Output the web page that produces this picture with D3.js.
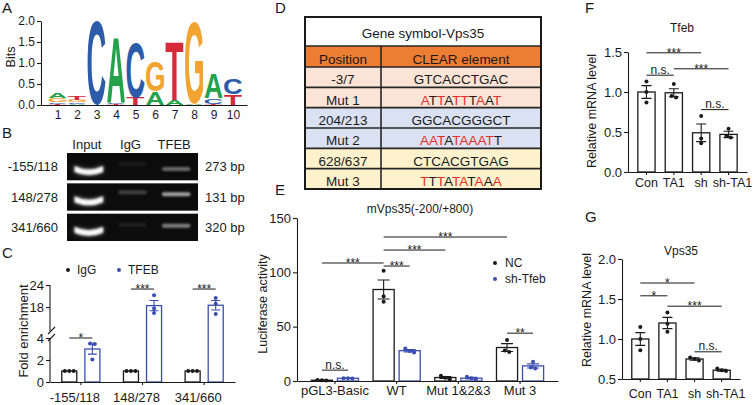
<!DOCTYPE html>
<html lang="en">
<head>
<meta charset="UTF-8">
<title>Vps35 / TFEB figure</title>
<script src="https://cdn.jsdelivr.net/npm/d3@7/dist/d3.min.js"></script>
<style>
  *{margin:0;padding:0;box-sizing:border-box}
  html,body{width:756px;height:405px;background:#fff;overflow:hidden}
  svg{display:block;font-family:"Liberation Sans",Arial,Helvetica,sans-serif;fill:#1a1a1a}
  .axis path,.axis line{stroke:#1a1a1a;stroke-width:1.1}
  .axis text{fill:#1a1a1a;font-size:13px;font-family:"Liberation Sans",Arial,sans-serif}
  .ax12 text{font-size:12px}
  .ax125 text{font-size:12.5px}
</style>
</head>
<body>
<svg id="fig" width="756" height="405"></svg>
<script>
// ---------- data ----------
// A: CLEAR motif logo (letters bottom -> top, height in bits)
const logoPos = [1,2,3,4,5,6,7,8,9,10];
const logoStacks = [
  [["T",0.02],["C",0.04],["G",0.10],["A",0.13]],
  [["A",0.02],["C",0.04],["G",0.05],["T",0.08]],
  [["C",2.0]],
  [["T",0.03],["C",0.04],["A",1.55]],
  [["T",0.17],["C",1.30]],
  [["A",0.32],["G",0.72]],
  [["A",0.13],["T",1.38]],
  [["A",0.03],["G",1.95]],
  [["T",0.03],["C",0.13],["A",0.58]],
  [["T",0.25],["C",0.38]]
];
const logoTicks = [0,0.5,1,1.5,2];

// B: ChIP-PCR gel
const gelLanes = ["Input","IgG","TFEB"];
const gelRows  = ["-155/118","148/278","341/660"];
const gelSizes = ["273 bp","131 bp","320 bp"];
const gelIgG   = [0.05,0.22,0.08];   // relative band brightness
const gelTFEB  = [0.38,0.62,0.48];

// C: ChIP-qPCR fold enrichment
const chipGroups = ["-155/118","148/278","341/660"];
const chipIgG    = [1,1,1];
const chipTFEB   = [3.0,18.4,18.5];
const chipTFEBse = [0.47,1.4,1.3];
const chipIgGPts  = [[1,1,1],[1,1,1],[1,1,1]];
const chipTFEBPts = [[3.5,3.45,2.05],[21.2,17.6,16.4],[20.5,18.9,16.1]];
const chipTicks  = [0,2,4,18,24];
const chipSig    = [["*",4.0],["***",22.9],["***",22.9]];

// D: CLEAR elements table
const tablePos = ["-3/7","Mut 1","204/213","Mut 2","628/637","Mut 3"];
const tableSeq = ["GTCACCTGAC","ATTATTTAAT","GGCACGGGCT","AATATAAATT","CTCACGTGAG","TTTATATAAA"];

// E: luciferase assay
const lucGroups = ["pGL3-Basic","WT","Mut 1&2&3","Mut 3"];
const lucNC     = [0.7,84.2,3.2,30.8];
const lucNCse   = [0.2,8.8,0.9,3.6];
const lucSh     = [2.5,27.9,2.6,13.9];
const lucShSe   = [0.1,1.1,0.7,1.9];
const lucNCPts  = [[0.4,0.8,1.0],[101.5,78,73],[4.8,3.0,1.7],[37.7,28.0,26.7]];
const lucShPts  = [[2.6,2.5,2.3],[30.0,27.5,26.2],[3.8,2.5,1.5],[17.8,12.5,11.5]];
const lucTicks  = [0,50,100,150];
// [groupA, seriesA, groupB, seriesB, y, label]
const lucSig = [[0,0,0,1,10,"n.s."],[0,0,1,0,108.6,"***"],[1,0,1,1,105.8,"***"],
                [1,0,2,0,120.5,"***"],[1,0,3,0,132.5,"***"],[3,0,3,1,44,"**"]];

// F: Tfeb mRNA
const geneCats = ["Con","TA1","sh","sh-TA1"];
const tfebMean = [1.0,0.99,0.49,0.47];
const tfebSe   = [0.08,0.05,0.11,0.04];
const tfebPts  = [[1.13,1.0,0.87],[1.10,0.95,0.93],[0.70,0.42,0.36],[0.54,0.45,0.43]];
const tfebTicks = [0,0.5,1,1.5];
const tfebSig  = [[0,2,1.49,"***"],[0,1,1.21,"n.s."],[1,3,1.29,"***"],[2,3,0.78,"n.s."]];

// G: Vps35 mRNA
const vpsMean = [1.0,1.2,0.75,0.61];
const vpsSe   = [0.08,0.07,0.015,0.012];
const vpsPts  = [[1.15,1.0,0.86],[1.33,1.19,1.09],[0.77,0.75,0.73],[0.63,0.61,0.60]];
const vpsTicks = [0.5,1,1.5,2];
const vpsSig  = [[0,2,1.70,"*"],[0,1,1.54,"*"],[1,3,1.41,"***"],[2,3,0.84,"n.s."]];

// ---------- helpers ----------
const INK = "#1a1a1a", BLUE = "#3a4db0", RED = "#ea2e27";
const svg = d3.select("#fig");
const defs = svg.append("defs");
defs.append("filter").attr("id","blur").attr("x","-30%").attr("y","-100%").attr("width","160%").attr("height","300%")
  .append("feGaussianBlur").attr("stdDeviation",1.1);
defs.append("filter").attr("id","glow").attr("x","-30%").attr("y","-100%").attr("width","160%").attr("height","300%")
  .append("feGaussianBlur").attr("stdDeviation",2.4);

function panelLetter(t,x,y){
  svg.append("text").attr("x",x).attr("y",y).attr("font-size",15).attr("fill",INK).text(t);
}
function rotLabel(g,t,x,y,size=12.5){
  g.append("text").attr("transform",`translate(${x},${y}) rotate(-90)`)
    .attr("text-anchor","middle").attr("dy","0.35em").attr("font-size",size).attr("fill",INK).text(t);
}
// spread dots that overlap vertically
function swarm(vals,y,cx,gap){
  const s = vals.map(v=>({py:y(v)})).sort((a,b)=>a.py-b.py), groups=[];
  let cur=[];
  s.forEach(d=>{ if(cur.length && d.py-cur[cur.length-1].py>gap){groups.push(cur);cur=[];} cur.push(d); });
  if(cur.length) groups.push(cur);
  const out=[];
  groups.forEach(c=>c.forEach((d,k)=>out.push({x:cx+(k-(c.length-1)/2)*gap,y:d.py})));
  return out;
}
function dots(g,vals,y,cx,color){
  g.selectAll(null).data(swarm(vals,y,cx,4.4)).join("circle")
    .attr("cx",d=>d.x).attr("cy",d=>d.y).attr("r",2).attr("fill",color);
}
function errBar(g,cx,y,m,s,cap,color){
  const p=d3.path();
  p.moveTo(cx,y(m-s)); p.lineTo(cx,y(m+s));
  p.moveTo(cx-cap/2,y(m+s)); p.lineTo(cx+cap/2,y(m+s));
  p.moveTo(cx-cap/2,y(m-s)); p.lineTo(cx+cap/2,y(m-s));
  g.append("path").attr("d",p.toString()).attr("stroke",color).attr("stroke-width",1.1).attr("fill","none");
}
function sig(g,xa,xb,yy,label){
  g.append("line").attr("x1",xa).attr("x2",xb).attr("y1",yy).attr("y2",yy)
    .attr("stroke",INK).attr("stroke-width",1);
  const star = label[0]==="*";
  g.append("text").attr("x",(xa+xb)/2).attr("y",star?yy+3.8:yy-1.5)
    .attr("text-anchor","middle").attr("font-size",12).attr("fill",INK).text(label);
}
function bar(g,x,w,y,v,base,color){
  g.append("rect").attr("x",x).attr("width",w).attr("y",y(v)).attr("height",y(base)-y(v))
    .attr("fill","#fff").attr("stroke",color).attr("stroke-width",1.3);
}

// ---------- A: logo ----------
panelLetter("A",2,13);
const gA = svg.append("g");
const ly = d3.scaleLinear().domain([0,2]).range([105,21]);
const lx = d3.scaleLinear().domain([0.15,10.72]).range([41,247]);
gA.append("g").attr("class","axis ax12").attr("transform","translate(41,0)")
  .call(d3.axisLeft(ly).tickValues(logoTicks).tickFormat(d3.format(".1f")).tickSize(4).tickSizeOuter(0).tickPadding(2));
gA.append("g").attr("class","axis ax12").attr("transform",`translate(0,${ly(0)})`)
  .call(d3.axisBottom(lx).tickValues(logoPos).tickSize(0).tickPadding(5));
rotLabel(gA,"Bits",11,57,12.5);

const logoColor = {A:"#23a24b",C:"#2b5ba9",G:"#f2a430",T:"#d72a3b"};
const LOGO_FAMILY = '"Liberation Sans", Arial, sans-serif';
const ctx = document.createElement("canvas").getContext("2d");
ctx.font = 'bold 100px ' + LOGO_FAMILY;
function ink(ch){
  const m = ctx.measureText(ch);
  return {l:-m.actualBoundingBoxLeft, r:m.actualBoundingBoxRight, t:-m.actualBoundingBoxAscent, b:m.actualBoundingBoxDescent};
}
logoStacks.forEach((stack,i)=>{
  let base = 0;
  stack.forEach(([ch,h])=>{
    const k = ink(ch), w = 18, y0 = ly(base), y1 = ly(base+h);
    const sx = w/(k.r-k.l), sy = (y0-y1)/(k.b-k.t);
    gA.append("text").text(ch).attr("font-size",100).attr("font-weight","bold")
      .attr("font-family",LOGO_FAMILY).attr("fill",logoColor[ch])
      .attr("transform",`translate(${lx(logoPos[i])-w/2},${y0}) scale(${sx},${sy}) translate(${-k.l},${-k.b})`);
    base += h;
  });
});

// ---------- B: gel ----------
panelLetter("B",2,138);
const gB = svg.append("g");
const gelX = d3.scaleBand().domain(gelLanes).range([67,198]).paddingInner(0.3).paddingOuter(0.15);
const gelY = d3.scaleBand().domain(gelRows).range([153,241]).paddingInner(0.1);
const bandDrop = {IgG:[9,7,9], TFEB:[14,9,10]};
gB.selectAll(null).data(gelLanes).join("text")
  .attr("x",d=>gelX(d)+gelX.bandwidth()/2-2).attr("y",149).attr("text-anchor","middle")
  .attr("font-size",13).attr("fill",INK).text(d=>d);
gelRows.forEach((r,i)=>{
  const top = gelY(r), h = gelY.bandwidth();
  gB.append("rect").attr("x",67).attr("y",top).attr("width",131).attr("height",h).attr("fill","#0c0c0c");
  // input band (smile shape)
  const x0 = gelX("Input")+1, x1 = gelX("Input")+gelX.bandwidth()-1, xc=(x0+x1)/2, t = top+13;
  const d = `M${x0},${t} Q${xc},${t+7} ${x1},${t} L${x1},${t+6} Q${xc},${t+12} ${x0},${t+6} Z`;
  gB.append("path").attr("d",d).attr("fill","#fff").attr("opacity",0.45).attr("filter","url(#glow)");
  gB.append("path").attr("d",d).attr("fill","#f8f8f8").attr("filter","url(#blur)");
  [["IgG",gelIgG[i]],["TFEB",gelTFEB[i]]].forEach(([lane,v])=>{
    gB.append("rect").attr("x",gelX(lane)+1).attr("width",gelX.bandwidth()-2)
      .attr("y",top+bandDrop[lane][i]).attr("height",4).attr("rx",2)
      .attr("fill","#fff").attr("opacity",v).attr("filter","url(#blur)");
  });
  gB.append("text").attr("x",58).attr("y",top+h/2).attr("dy","0.35em").attr("text-anchor","end")
    .attr("font-size",13).attr("fill",INK).text(r);
  gB.append("text").attr("x",205).attr("y",top+h/2).attr("dy","0.35em")
    .attr("font-size",13).attr("fill",INK).text(gelSizes[i]);
});

// ---------- C: fold enrichment ----------
panelLetter("C",2,258);
const gC = svg.append("g");
const cX = d3.scaleBand().domain(chipGroups).range([50,235]);
const cSub = d3.scaleBand().domain([0,1]).range([0,cX.bandwidth()]).paddingInner(0.35).paddingOuter(0.51);
const cY = d3.scaleLinear().domain([0,4,11.5,24]).range([382,338,331,285]);
const cAx = gC.append("g").attr("class","axis").attr("transform","translate(50,0)")
  .call(d3.axisLeft(cY).tickValues(chipTicks).tickSize(4).tickSizeOuter(0).tickPadding(2));
cAx.select(".domain").remove();
[[0,4],[11.5,24]].forEach(([a,b])=>cAx.append("line").attr("y1",cY(a)).attr("y2",cY(b)).attr("stroke",INK).attr("stroke-width",1.1));
[cY(4),cY(11.5)].forEach(yy=>cAx.append("line").attr("x1",-2).attr("x2",5).attr("y1",yy+3).attr("y2",yy-4)
  .attr("stroke",INK).attr("stroke-width",1.1));
chipGroups.forEach((g,i)=>{
  const x0 = cX(g), w = cSub.bandwidth();
  bar(gC,x0+cSub(0),w,cY,chipIgG[i],0,INK);
  bar(gC,x0+cSub(1),w,cY,chipTFEB[i],0,BLUE);
  errBar(gC,x0+cSub(1)+w/2,cY,chipTFEB[i],chipTFEBse[i],9,BLUE);
  dots(gC,chipIgGPts[i],cY,x0+cSub(0)+w/2,INK);
  dots(gC,chipTFEBPts[i],cY,x0+cSub(1)+w/2,BLUE);
  sig(gC,x0+cSub(0)+w/2,x0+cSub(1)+w/2,cY(chipSig[i][1]),chipSig[i][0]);
});
gC.append("g").attr("class","axis").attr("transform",`translate(0,${cY(0)})`)
  .call(d3.axisBottom(cX).tickSize(3).tickSizeOuter(0).tickPadding(8))
  .selectAll("text").attr("dx",-6);
rotLabel(gC,"Fold enrichment",23,331,13);
// legend
[["IgG",INK,68],["TFEB",BLUE,119]].forEach(([t,c,x])=>{
  gC.append("circle").attr("cx",x).attr("cy",270).attr("r",2).attr("fill",c);
  gC.append("text").attr("x",x+9).attr("y",270).attr("dy","0.35em").attr("font-size",12).attr("fill",INK).text(t);
});

// ---------- D: table ----------
panelLetter("D",275,13);
const gD = svg.append("g");
const tX0 = 305, tX1 = 541, tCol = 381;
const tRows = d3.scaleBand().domain(d3.range(tablePos.length)).range([67,189]);
const rowFill = ["#fce4d6","#dae1f3","#fff2cc"];
gD.append("rect").attr("x",tX0).attr("y",17).attr("width",tX1-tX0).attr("height",29).attr("fill","#fff");
gD.append("rect").attr("x",tX0).attr("y",46).attr("width",tX1-tX0).attr("height",21).attr("fill","#ec7d33");
tablePos.forEach((p,i)=>{
  const y0 = tRows(i), h = tRows.bandwidth();
  gD.append("rect").attr("x",tX0).attr("y",y0).attr("width",tX1-tX0).attr("height",h).attr("fill",rowFill[Math.floor(i/2)]);
  gD.append("text").attr("x",(tX0+tCol)/2).attr("y",y0+h-3).attr("text-anchor","middle")
    .attr("font-size",13.5).attr("fill",INK).text(p);
  const wt = i%2 ? tableSeq[i-1] : null;
  const t = gD.append("text").attr("x",(tCol+tX1)/2).attr("y",y0+h-3).attr("text-anchor","middle").attr("font-size",13.5);
  tableSeq[i].split("").forEach((ch,k)=>t.append("tspan").attr("fill",wt && wt[k]!==ch ? RED : INK).text(ch));
});
gD.append("text").attr("x",(tX0+tX1)/2).attr("y",37.5).attr("text-anchor","middle").attr("font-size",13.5).attr("fill",INK).text("Gene symbol-Vps35");
gD.append("text").attr("x",(tX0+tCol)/2).attr("y",63.5).attr("text-anchor","middle").attr("font-size",13.5).attr("fill",INK).text("Position");
gD.append("text").attr("x",(tCol+tX1)/2).attr("y",63.5).attr("text-anchor","middle").attr("font-size",13.5).attr("fill",INK).text("CLEAR element");
[46,67].concat(tablePos.map((p,i)=>tRows(i)+tRows.bandwidth())).forEach(yy=>
  gD.append("line").attr("x1",tX0).attr("x2",tX1).attr("y1",yy).attr("y2",yy).attr("stroke","#262626").attr("stroke-width",1.6));
gD.append("line").attr("x1",tCol).attr("x2",tCol).attr("y1",46).attr("y2",189).attr("stroke","#262626").attr("stroke-width",1.6);
gD.append("rect").attr("x",tX0).attr("y",17).attr("width",tX1-tX0).attr("height",172)
  .attr("fill","none").attr("stroke","#1a1a1a").attr("stroke-width",2);

// ---------- E: luciferase ----------
panelLetter("E",275,195);
const gE = svg.append("g");
const eX = d3.scaleBand().domain(lucGroups).range([297,558]).paddingInner(0).paddingOuter(0.115);
const eSub = d3.scaleBand().domain([0,1]).range([0,eX.bandwidth()]).paddingInner(0.19).paddingOuter(0.28);
const eY = d3.scaleLinear().domain([0,150]).range([381,218]);
gE.append("g").attr("class","axis").attr("transform","translate(297,0)")
  .call(d3.axisLeft(eY).tickValues(lucTicks).tickSize(4).tickSizeOuter(0).tickPadding(2));
const eCx = (g,s)=>eX(lucGroups[g])+eSub(s)+eSub.bandwidth()/2;
lucGroups.forEach((g,i)=>{
  const w = eSub.bandwidth();
  bar(gE,eX(g)+eSub(0),w,eY,lucNC[i],0,INK);
  bar(gE,eX(g)+eSub(1),w,eY,lucSh[i],0,BLUE);
  errBar(gE,eCx(i,0),eY,lucNC[i],lucNCse[i],12,INK);
  errBar(gE,eCx(i,1),eY,lucSh[i],lucShSe[i],12,BLUE);
  dots(gE,lucNCPts[i],eY,eCx(i,0),INK);
  dots(gE,lucShPts[i],eY,eCx(i,1),BLUE);
});
gE.append("g").attr("class","axis").attr("transform",`translate(0,${eY(0)})`)
  .call(d3.axisBottom(eX).tickSize(3).tickSizeOuter(0).tickPadding(2));
lucSig.forEach(([ga,sa,gb,sb,v,l])=>sig(gE,eCx(ga,sa),eCx(gb,sb),eY(v),l));
gE.append("text").attr("x",420).attr("y",213).attr("text-anchor","middle").attr("font-size",12).attr("fill",INK).text("mVps35(-200/+800)");
rotLabel(gE,"Luciferase activity",263,304,12.5);
[["NC",INK,263],["sh-Tfeb",BLUE,279]].forEach(([t,c,y])=>{
  gE.append("circle").attr("cx",495).attr("cy",y).attr("r",2).attr("fill",c);
  gE.append("text").attr("x",505).attr("y",y).attr("dy","0.35em").attr("font-size",12).attr("fill",INK).text(t);
});

// ---------- F / G: qPCR ----------
function qpcr(g,xRange,y,ticks,mean,se,pts,sigs,pad){
  const x = d3.scaleBand().domain(geneCats).range(xRange).paddingInner(0.37).paddingOuter(0.36);
  const base = y.domain()[0], cx = i=>x(geneCats[i])+x.bandwidth()/2;
  g.append("g").attr("class","axis").attr("transform",`translate(${xRange[0]},0)`)
    .call(d3.axisLeft(y).tickValues(ticks).tickFormat(d3.format(".1f")).tickSize(4).tickSizeOuter(0).tickPadding(2));
  geneCats.forEach((c,i)=>{
    bar(g,x(c),x.bandwidth(),y,mean[i],base,INK);
    errBar(g,cx(i),y,mean[i],se[i],10,INK);
    dots(g,pts[i],y,cx(i),INK);
  });
  g.append("g").attr("class","axis ax125").attr("transform",`translate(0,${y(base)})`)
    .call(d3.axisBottom(x).tickSize(3).tickSizeOuter(0).tickPadding(pad))
    .selectAll("text").attr("dx",(d,i)=>i===geneCats.length-1?4:0);
  sigs.forEach(([a,b,v,l])=>sig(g,cx(a),cx(b),y(v),l));
}
panelLetter("F",585,13);
const gF = svg.append("g");
qpcr(gF,[628,747],d3.scaleLinear().domain([0,1.5]).range([172,52]),tfebTicks,tfebMean,tfebSe,tfebPts,tfebSig,3);
gF.append("text").attr("x",682).attr("y",32).attr("text-anchor","middle").attr("font-size",12).attr("fill",INK).text("Tfeb");
rotLabel(gF,"Relative mRNA level",592,111,12.5);

panelLetter("G",585,222);
const gG = svg.append("g");
qpcr(gG,[622,740],d3.scaleLinear().domain([0.5,2]).range([379,259]),vpsTicks,vpsMean,vpsSe,vpsPts,vpsSig,7);
gG.append("text").attr("x",681).attr("y",255).attr("text-anchor","middle").attr("font-size",12).attr("fill",INK).text("Vps35");
rotLabel(gG,"Relative mRNA level",587,310,12.5);
</script>
</body>
</html>
